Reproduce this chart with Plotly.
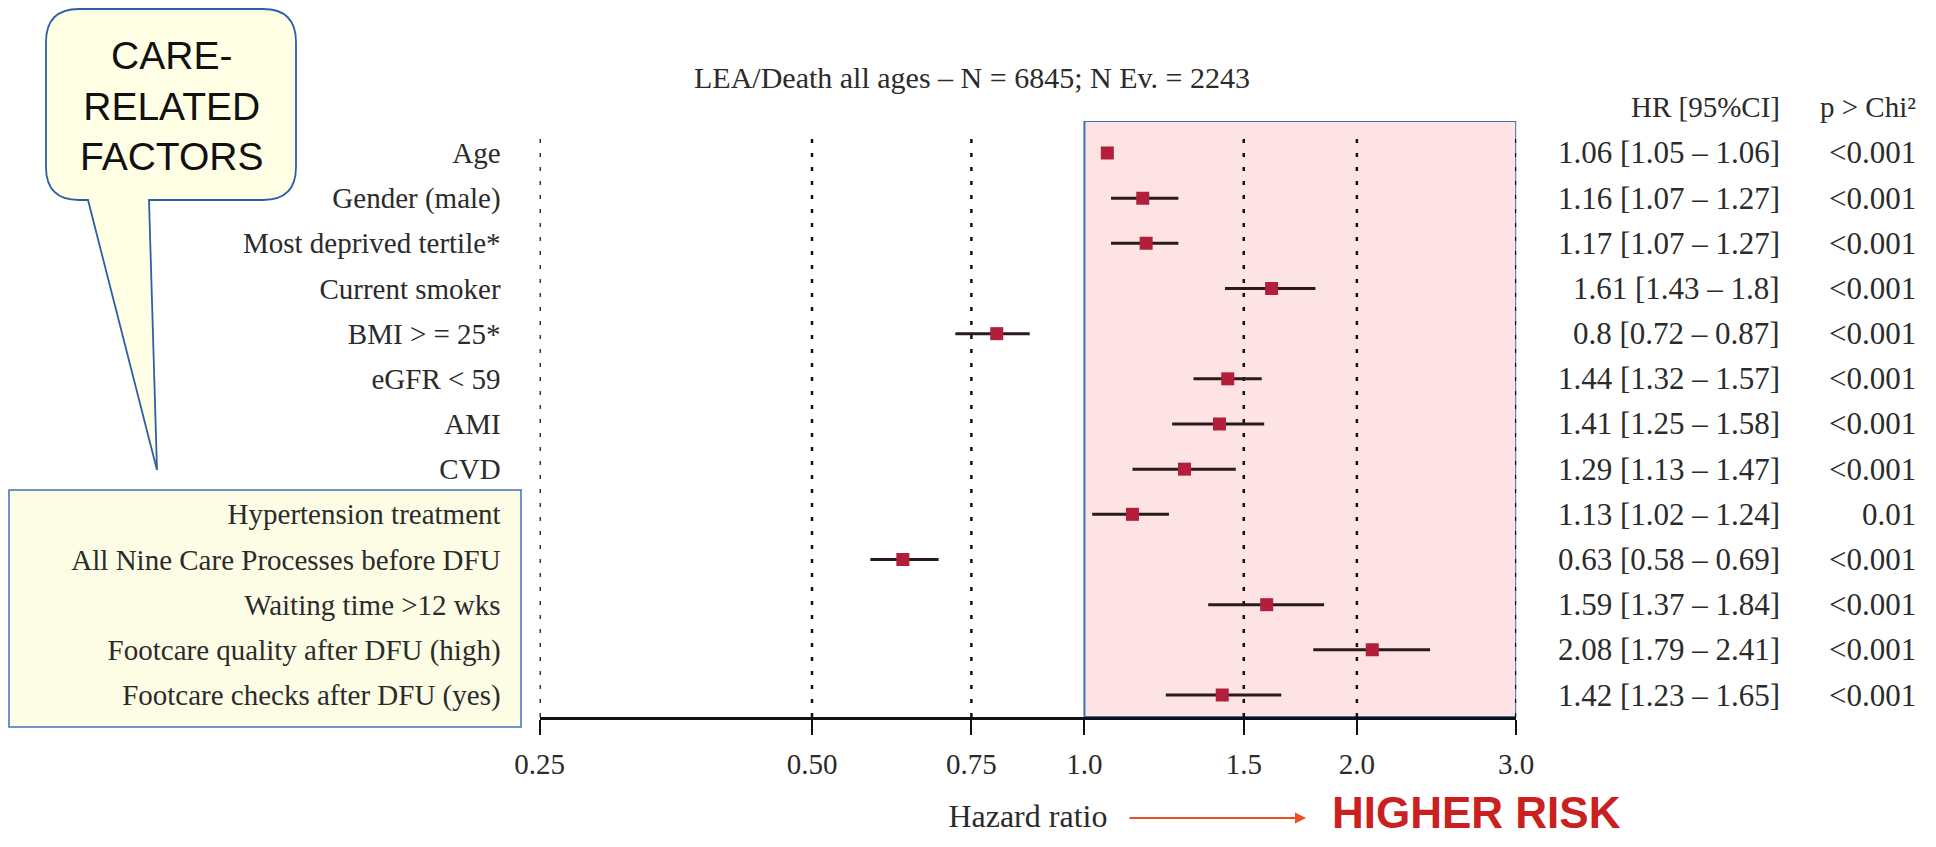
import math
import plotly.graph_objects as go

# ---------------- data ----------------
labels = ["Age", "Gender (male)", "Most deprived tertile*", "Current smoker",
          "BMI > = 25*", "eGFR < 59", "AMI", "CVD", "Hypertension treatment",
          "All Nine Care Processes before DFU", "Waiting time >12 wks",
          "Footcare quality after DFU (high)", "Footcare checks after DFU (yes)"]
hr = [1.06, 1.16, 1.17, 1.61, 0.8, 1.44, 1.41, 1.29, 1.13, 0.63, 1.59, 2.08, 1.42]
ci_low = [1.05, 1.07, 1.07, 1.43, 0.72, 1.32, 1.25, 1.13, 1.02, 0.58, 1.37, 1.79, 1.23]
ci_high = [1.06, 1.27, 1.27, 1.8, 0.87, 1.57, 1.58, 1.47, 1.24, 0.69, 1.84, 2.41, 1.65]
p_values = ["<0.001", "<0.001", "<0.001", "<0.001", "<0.001", "<0.001", "<0.001",
            "<0.001", "0.01", "<0.001", "<0.001", "<0.001", "<0.001"]
tick_vals = [0.25, 0.5, 0.75, 1.0, 1.5, 2.0, 3.0]
tick_text = ["0.25", "0.50", "0.75", "1.0", "1.5", "2.0", "3.0"]
ref_lines = [0.25, 0.5, 0.75, 1.5, 2.0, 3.0]
title_text = "LEA/Death all ages \u2013 N = 6845; N Ev. = 2243"

# ---------------- layout helpers ----------------
OFF = 8                      # default page margin around the plot div
W, H = 1936 - 2 * OFF, 847 - 2 * OFF
n = len(labels)
ypos = [n - 1 - i for i in range(n)]
Y_MIN, Y_MAX = -0.487, 12.708
X_MIN, X_MAX = 0.25, 3.0

def px(x):
    return (x - OFF) / W

def py(y):
    return 1 - (y - OFF) / H

def esc(s):
    return s.replace("<", "&lt;").replace(">", "&gt;")

SERIF = "Liberation Serif, Times New Roman, serif"
SANS = "Liberation Sans, Arial, sans-serif"
TXT = "#2b2b2b"
FS = 29

fig = go.Figure()

# pink highlighted region (HR >= 1)
fig.add_trace(go.Scatter(
    x=[1.0, X_MAX, X_MAX, 1.0, 1.0], y=[Y_MIN, Y_MIN, Y_MAX, Y_MAX, Y_MIN],
    mode="lines", fill="toself", fillcolor="#fde3e4",
    line=dict(color="#3f6fb8", width=2), hoverinfo="skip", showlegend=False))

# dotted reference lines
gx, gy = [], []
for v in ref_lines:
    gx += [v, v, None]
    gy += [Y_MIN, 12.5, None]
fig.add_trace(go.Scatter(x=gx, y=gy, mode="lines",
                         line=dict(color="#111111", width=2.5, dash="4px,10px"),
                         hoverinfo="skip", showlegend=False))

# confidence intervals
cx, cy = [], []
for lo, hi, y in zip(ci_low, ci_high, ypos):
    cx += [lo, hi, None]
    cy += [y, y, None]
fig.add_trace(go.Scatter(x=cx, y=cy, mode="lines",
                         line=dict(color="#2a1a1c", width=3),
                         hoverinfo="skip", showlegend=False))

# point estimates
fig.add_trace(go.Scatter(x=hr, y=ypos, mode="markers",
                         marker=dict(symbol="square", size=13, color="#b31f3a",
                                     line=dict(width=0)),
                         showlegend=False))

# ---------------- boxes (callout + care-related group) ----------------
shapes = []
shapes.append(dict(type="rect", xref="paper", yref="paper",
                   x0=px(9), x1=px(521), y0=py(727), y1=py(490),
                   fillcolor="#fdfde6", line=dict(color="#3f6fb8", width=1.5),
                   layer="below"))
L, R, T, B, r = 46, 296, 9, 200, 33
t1, t2, tip = 88, 149, (157, 470)
pts = [
    ("M", L + r, T), ("L", R - r, T), ("Q", R, T, R, T + r), ("L", R, B - r),
    ("Q", R, B, R - r, B), ("L", t2, B), ("L", tip[0], tip[1]), ("L", t1, B),
    ("L", L + r, B), ("Q", L, B, L, B - r), ("L", L, T + r), ("Q", L, T, L + r, T),
]
path = ""
for p in pts:
    coords = p[1:]
    s = [f"{px(coords[i]):.5f},{py(coords[i+1]):.5f}" for i in range(0, len(coords), 2)]
    path += p[0] + " " + " ".join(s) + " "
path += "Z"
shapes.append(dict(type="path", xref="paper", yref="paper", path=path,
                   fillcolor="#ffffe6", line=dict(color="#2f5fa8", width=1.8),
                   layer="below"))

annotations = []
annotations.append(dict(xref="paper", yref="paper", x=px(171), y=py(106),
                        text="CARE-<br>RELATED<br>FACTORS", showarrow=False,
                        font=dict(family=SANS, size=39, color="#111111"),
                        xanchor="center", yanchor="middle", align="center"))

# table headers
annotations.append(dict(xref="paper", yref="paper", x=px(1782), y=py(107),
                        text="HR [95%CI]", showarrow=False, xanchor="right",
                        yanchor="middle", font=dict(family=SERIF, size=FS, color=TXT)))
annotations.append(dict(xref="paper", yref="paper", x=px(1918), y=py(107),
                        text="p &gt; Chi\u00b2", showarrow=False, xanchor="right",
                        yanchor="middle", font=dict(family=SERIF, size=FS, color=TXT)))

# table rows
for h, lo, hi, p, y in zip(hr, ci_low, ci_high, p_values, ypos):
    annotations.append(dict(xref="paper", yref="y", x=px(1782), y=y,
                            text=f"{h:g} [{lo:g} \u2013 {hi:g}]", showarrow=False,
                            xanchor="right", yanchor="middle",
                            font=dict(family=SERIF, size=31, color=TXT)))
    annotations.append(dict(xref="paper", yref="y", x=px(1918), y=y,
                            text=esc(p), showarrow=False,
                            xanchor="right", yanchor="middle",
                            font=dict(family=SERIF, size=31, color=TXT)))

# arrow and HIGHER RISK
annotations.append(dict(xref="paper", yref="paper", x=px(1306), y=py(818),
                        ax=-178, ay=0, text="", showarrow=True, arrowhead=2,
                        arrowsize=1.1, arrowwidth=2, arrowcolor="#ef4e23",
                        standoff=0, startstandoff=0))
annotations.append(dict(xref="paper", yref="paper", x=px(1330), y=py(812),
                        text="<b>HIGHER RISK</b>", showarrow=False,
                        xanchor="left", yanchor="middle",
                        font=dict(family=SANS, size=44, color="#c9211f")))

fig.update_layout(
    width=W, height=H,
    margin=dict(l=0, r=0, t=0, b=0, autoexpand=False),
    paper_bgcolor="white", plot_bgcolor="white",
    showlegend=False,
    title=dict(text=title_text, x=px(972), y=py(77), xanchor="center",
               yanchor="middle", font=dict(family=SERIF, size=30, color=TXT)),
    shapes=shapes, annotations=annotations,
    xaxis=dict(type="log", range=[math.log10(X_MIN), math.log10(X_MAX)],
               domain=[px(539.6), px(1516.2)], automargin=False,
               tickvals=tick_vals, ticktext=tick_text,
               showline=True, linecolor="#111111", linewidth=3,
               ticks="outside", ticklen=15, tickwidth=2, tickcolor="#111111",
               showgrid=False, zeroline=False,
               tickfont=dict(family=SERIF, size=FS, color=TXT),
               ticklabelstandoff=4,
               title=dict(text="Hazard ratio", standoff=26,
                          font=dict(family=SERIF, size=32, color=TXT))),
    yaxis=dict(range=[Y_MIN, Y_MAX], domain=[py(717), py(121)], automargin=False,
               tickvals=ypos, ticktext=[esc(s) for s in labels],
               showline=False, showgrid=False, zeroline=False, ticks="",
               tickfont=dict(family=SERIF, size=FS, color=TXT),
               ticklabelstandoff=38),
)

fig.write_html("out.html")
